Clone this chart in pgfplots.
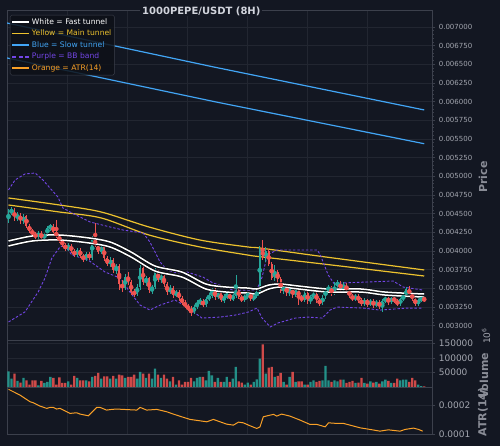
\documentclass[border=0pt]{standalone}
\usepackage{fontspec}
\setmainfont{DejaVu Sans}
\usepackage{pgfplots}
\usepackage{pgfplotstable}
\pgfplotsset{compat=1.18}
\definecolor{bg}{HTML}{131722}
\definecolor{gridc}{HTML}{222631}
\definecolor{spine}{HTML}{3C404C}
\definecolor{tickc}{HTML}{A3A6AF}
\definecolor{labc}{HTML}{8A8D97}
\definecolor{titc}{HTML}{D1D4DC}
\definecolor{upc}{HTML}{26A69A}
\definecolor{dnc}{HTML}{EF5350}
\definecolor{ylw}{HTML}{EDC22E}
\definecolor{blu}{HTML}{42A5F5}
\definecolor{prp}{HTML}{7346E6}
\definecolor{org}{HTML}{F9A027}
\definecolor{legbg}{HTML}{0E1118}
\definecolor{outl}{HTML}{0A0C10}

\pgfplotstableread{
i o h l c
0 0.004402 0.004562 0.004375 0.004509
1 0.004509 0.004589 0.004482 0.004549
3 0.004428 0.004522 0.004402 0.004495
5 0.004388 0.004495 0.004362 0.004469
10 0.004187 0.004268 0.004161 0.004241
12 0.004174 0.004241 0.004147 0.004228
13 0.004228 0.004335 0.004201 0.004308
14 0.004308 0.004362 0.004268 0.004335
20 0.004027 0.004107 0.004000 0.004067
23 0.003946 0.004040 0.003919 0.004013
26 0.003893 0.003986 0.003866 0.003960
28 0.003906 0.004201 0.003879 0.004161
31 0.003986 0.004094 0.003960 0.004053
34 0.003826 0.003919 0.003785 0.003879
36 0.003745 0.003826 0.003692 0.003799
39 0.003504 0.003692 0.003477 0.003651
43 0.003424 0.003558 0.003397 0.003517
44 0.003517 0.003812 0.003477 0.003772
46 0.003584 0.003665 0.003531 0.003638
48 0.003477 0.003544 0.003424 0.003517
49 0.003517 0.003812 0.003491 0.003718
51 0.003611 0.003718 0.003571 0.003665
54 0.003450 0.003544 0.003424 0.003504
56 0.003410 0.003477 0.003383 0.003450
62 0.003182 0.003276 0.003156 0.003249
63 0.003249 0.003343 0.003223 0.003303
64 0.003303 0.003370 0.003276 0.003330
66 0.003276 0.003383 0.003249 0.003357
67 0.003357 0.003437 0.003330 0.003397
68 0.003397 0.003504 0.003370 0.003477
70 0.003383 0.003464 0.003357 0.003437
72 0.003343 0.003424 0.003303 0.003383
73 0.003383 0.003450 0.003357 0.003424
75 0.003357 0.003437 0.003330 0.003397
76 0.003397 0.003678 0.003370 0.003477
79 0.003343 0.003424 0.003316 0.003397
80 0.003397 0.003450 0.003357 0.003424
82 0.003357 0.003424 0.003330 0.003397
83 0.003397 0.003477 0.003370 0.003450
84 0.003450 0.004067 0.003424 0.004027
86 0.003906 0.004053 0.003852 0.004000
89 0.003638 0.003812 0.003598 0.003718
92 0.003464 0.003558 0.003424 0.003517
94 0.003437 0.003517 0.003397 0.003491
96 0.003410 0.003504 0.003383 0.003477
99 0.003343 0.003464 0.003316 0.003437
101 0.003330 0.003410 0.003290 0.003383
102 0.003383 0.003450 0.003357 0.003424
105 0.003303 0.003410 0.003276 0.003383
106 0.003383 0.003504 0.003357 0.003477
107 0.003477 0.003544 0.003450 0.003504
109 0.003437 0.003584 0.003410 0.003544
110 0.003544 0.003611 0.003504 0.003571
112 0.003491 0.003584 0.003464 0.003558
116 0.003357 0.003424 0.003330 0.003397
119 0.003290 0.003370 0.003263 0.003343
121 0.003290 0.003357 0.003263 0.003330
123 0.003276 0.003343 0.003249 0.003316
125 0.003263 0.003357 0.003182 0.003330
126 0.003330 0.003397 0.003303 0.003370
128 0.003316 0.003397 0.003290 0.003370
131 0.003290 0.003383 0.003263 0.003357
132 0.003357 0.003424 0.003330 0.003397
133 0.003397 0.003517 0.003370 0.003491
137 0.003290 0.003370 0.003263 0.003343
138 0.003343 0.003397 0.003316 0.003370
}\candup

\pgfplotstableread{
i o h l c
2 0.004549 0.004576 0.004402 0.004428
4 0.004495 0.004509 0.004362 0.004388
6 0.004469 0.004482 0.004308 0.004335
7 0.004335 0.004362 0.004241 0.004268
8 0.004268 0.004295 0.004201 0.004228
9 0.004228 0.004254 0.004161 0.004187
11 0.004241 0.004268 0.004147 0.004174
15 0.004335 0.004362 0.004228 0.004254
16 0.004254 0.004415 0.004174 0.004201
17 0.004201 0.004228 0.004107 0.004134
18 0.004134 0.004161 0.004053 0.004080
19 0.004080 0.004107 0.004000 0.004027
21 0.004067 0.004094 0.003973 0.004000
22 0.004000 0.004027 0.003919 0.003946
24 0.004013 0.004040 0.003906 0.003933
25 0.003933 0.003960 0.003852 0.003893
27 0.003960 0.003986 0.003879 0.003906
29 0.004161 0.004375 0.004053 0.004080
30 0.004080 0.004107 0.003960 0.003986
32 0.004053 0.004080 0.003866 0.003906
33 0.003906 0.003933 0.003799 0.003826
35 0.003879 0.003906 0.003705 0.003745
37 0.003799 0.003826 0.003477 0.003558
38 0.003558 0.003611 0.003450 0.003504
40 0.003651 0.003718 0.003544 0.003584
41 0.003584 0.003611 0.003410 0.003450
42 0.003450 0.003491 0.003383 0.003424
45 0.003772 0.003799 0.003544 0.003584
47 0.003638 0.003651 0.003437 0.003477
50 0.003718 0.003745 0.003584 0.003611
52 0.003665 0.003678 0.003517 0.003558
53 0.003558 0.003584 0.003410 0.003450
55 0.003504 0.003531 0.003370 0.003410
57 0.003450 0.003477 0.003330 0.003370
58 0.003370 0.003397 0.003276 0.003303
59 0.003303 0.003343 0.003236 0.003263
60 0.003263 0.003290 0.003196 0.003223
61 0.003223 0.003263 0.003129 0.003182
65 0.003330 0.003357 0.003249 0.003276
69 0.003477 0.003504 0.003343 0.003383
71 0.003437 0.003464 0.003316 0.003343
74 0.003424 0.003450 0.003330 0.003357
77 0.003477 0.003504 0.003357 0.003383
78 0.003383 0.003410 0.003316 0.003343
81 0.003424 0.003450 0.003330 0.003357
85 0.004027 0.004147 0.003879 0.003906
87 0.004000 0.004027 0.003799 0.003826
88 0.003826 0.003852 0.003611 0.003638
90 0.003718 0.003745 0.003571 0.003625
91 0.003625 0.003651 0.003437 0.003464
93 0.003517 0.003544 0.003397 0.003437
95 0.003491 0.003517 0.003370 0.003410
97 0.003477 0.003504 0.003276 0.003383
98 0.003383 0.003410 0.003316 0.003343
100 0.003437 0.003464 0.003290 0.003330
103 0.003424 0.003450 0.003303 0.003343
104 0.003343 0.003370 0.003263 0.003303
108 0.003504 0.003531 0.003397 0.003437
111 0.003571 0.003598 0.003464 0.003491
113 0.003558 0.003571 0.003437 0.003464
114 0.003464 0.003491 0.003370 0.003397
115 0.003397 0.003424 0.003330 0.003357
117 0.003397 0.003424 0.003303 0.003343
118 0.003343 0.003370 0.003263 0.003290
120 0.003343 0.003357 0.003249 0.003290
122 0.003330 0.003357 0.003236 0.003276
124 0.003316 0.003343 0.003223 0.003263
127 0.003370 0.003397 0.003276 0.003316
129 0.003370 0.003397 0.003303 0.003330
130 0.003330 0.003357 0.003263 0.003290
134 0.003491 0.003531 0.003383 0.003424
135 0.003424 0.003450 0.003330 0.003357
136 0.003357 0.003383 0.003263 0.003290
139 0.003370 0.003383 0.003316 0.003343
}\canddn

\pgfplotstableread{
i v
0 54000
1 28700
3 20700
5 31000
10 5700
12 13800
13 17200
14 34500
20 19500
23 31000
26 23000
28 34500
31 28700
34 28700
36 28700
39 31000
43 28700
44 51700
46 31000
48 28700
49 63200
51 31000
54 19500
56 8000
62 19500
63 31000
64 34500
66 23000
67 55200
68 40200
70 31000
72 17200
73 34500
75 28700
76 68900
79 8000
80 14900
82 17200
83 26400
84 97700
86 46000
89 34500
92 17200
94 34500
96 17200
99 8000
101 17200
102 23000
105 23000
106 72400
107 23000
109 23000
110 19500
112 25300
116 13800
119 13800
121 19500
123 17200
125 19500
126 25300
128 13800
131 23000
132 25300
133 25300
137 8000
138 3400
}\volup

\pgfplotstableread{
i v
2 46000
4 14900
6 23000
7 8000
8 23000
9 23000
11 20700
15 31000
16 8000
17 33300
18 13800
19 13800
21 8000
22 37900
24 23000
25 23000
27 19500
29 37900
30 48300
32 36800
33 36800
35 37900
37 42500
38 40200
40 34500
41 34500
42 42500
45 46000
47 46000
50 42500
52 42500
53 28700
55 34500
57 23000
58 8000
59 17200
60 17200
61 31000
65 34500
69 17200
71 17200
74 17200
77 19500
78 14900
81 8000
85 145900
87 66600
88 68900
90 37900
91 48300
93 8000
95 51700
97 19500
98 19500
100 8000
103 17200
104 20700
108 17200
111 25300
113 13800
114 17200
115 20700
117 14900
118 31000
120 11500
122 14900
124 11500
127 20700
129 13800
130 28700
134 17200
135 31000
136 23000
139 2000
}\voldn

\pgfplotstableread{
i a
0 0.0002563
1.6 0.0002479
3.8 0.0002363
7.2 0.0002127
8.3 0.0002092
10.5 0.0001975
12.8 0.0001894
13.9 0.0001929
15 0.0001929
16.1 0.0001870
17.2 0.0001894
19.5 0.0001775
20.6 0.0001718
22.8 0.0001740
23.9 0.0001694
26.7 0.0001634
29.5 0.0001929
30.6 0.0001929
32.8 0.0001834
34.5 0.0001858
36.2 0.0001870
38.4 0.0001858
42.9 0.0001834
44 0.0001929
46.2 0.0001834
49.6 0.0001858
52.9 0.0001775
55.1 0.0001694
57.9 0.0001599
60.7 0.0001507
64 0.0001458
66.3 0.0001423
68.5 0.0001507
72.9 0.0001342
75.2 0.0001306
76.9 0.0001412
78.5 0.0001387
80.8 0.0001282
83 0.0001190
84.1 0.0001246
85.2 0.0001599
87.5 0.0001658
88.6 0.0001683
89.7 0.0001623
91.3 0.0001694
94.1 0.0001623
97.5 0.0001482
100.8 0.0001331
103.1 0.0001331
105.9 0.0001246
107 0.0001387
109.8 0.0001366
112 0.0001366
114.2 0.0001306
117.6 0.0001211
120.9 0.0001155
124.2 0.0001095
127 0.0001141
130.9 0.0001095
132.6 0.0001155
135.4 0.0001201
137.1 0.0001155
138.5 0.0001095
}\atrt

\pgfplotstableread{
i p
0 0.004134
8 0.004201
17 0.004214
27 0.004174
34 0.004120
41 0.003986
49 0.003799
58 0.003718
66 0.003558
73 0.003517
80 0.003504
83 0.003491
87 0.003544
91 0.003558
97 0.003531
107 0.003491
118 0.003491
126 0.003450
139 0.003424
}\wu

\pgfplotstableread{
i p
0 0.004067
8 0.004134
17 0.004147
27 0.004107
34 0.004053
41 0.003919
49 0.003732
58 0.003651
66 0.003491
73 0.003450
80 0.003437
83 0.003424
87 0.003491
91 0.003517
97 0.003491
107 0.003450
118 0.003450
126 0.003410
139 0.003383
}\wl

\pgfplotstableread{
i p
0 0.004710
17 0.004616
31 0.004522
47 0.004321
64 0.004147
80 0.004054
84 0.004040
106 0.003920
139 0.003746
}\yu

\pgfplotstableread{
i p
0 0.004616
17 0.004522
31 0.004442
47 0.004214
64 0.004054
80 0.003946
84 0.003924
106 0.003822
139 0.003665
}\yl

\pgfplotstableread{
i p
-0.5 0.007052
69 0.006460
139 0.005888
}\bu

\pgfplotstableread{
i p
-0.5 0.006584
69 0.005998
139 0.005436
}\bl

\pgfplotstableread{
i p
0 0.004817
2.2 0.004951
5.5 0.005031
8.9 0.005044
11.5 0.004951
16.5 0.004723
18.2 0.004576
21.2 0.004509
27.3 0.004388
34 0.004321
38.3 0.004281
45 0.004241
47.3 0.004120
50.7 0.003852
53 0.003745
56.4 0.003705
59.7 0.003718
65 0.003651
68.4 0.003571
70.7 0.003544
75 0.003477
80.8 0.003477
83 0.003477
84.8 0.003651
86.5 0.003946
89.8 0.004013
103.2 0.004013
104.2 0.003954
106.9 0.003678
109.2 0.003544
110.9 0.003571
128.6 0.003598
132 0.003517
138.6 0.003477
}\bbu

\pgfplotstableread{
i p
0 0.003050
5.5 0.003184
9.9 0.003450
12.2 0.003638
14.5 0.003906
17.2 0.004053
18.6 0.004080
21.2 0.003946
26.6 0.003879
32.3 0.003718
37.3 0.003638
40.6 0.003450
44 0.003276
47.3 0.003209
50.7 0.003276
55.7 0.003343
59.7 0.003249
64.7 0.003102
70.7 0.003115
75.8 0.003142
80.1 0.003182
83.1 0.003236
84.8 0.003102
87.5 0.002983
90.1 0.003036
95.8 0.003102
100.2 0.003115
104.9 0.003102
107.5 0.003209
109.9 0.003249
118.6 0.003236
124.2 0.003209
133.3 0.003236
138.6 0.003236
}\bbl

\pgfplotsset{
  panel/.style={
    scale only axis, width=425pt, xmin=-0.5, xmax=141.6,
    axis background/.style={fill=bg},
    axis line style={draw=spine, line width=0.8pt},
    xtick={19.6,39.6,59.7,79.8,99.8,119.9}, xticklabels={},
    major x tick style={draw=none},
    grid=major, major grid style={draw=gridc, line width=0.6pt},
    ytick pos=right, yticklabel pos=right, tick align=outside,
    major tick length=3.3pt, minor tick length=2pt,
    every tick/.style={draw=spine, line width=0.6pt},
    yticklabel style={text=tickc, anchor=west},
    scaled y ticks=false,
  },
  candle/.style={only marks, mark=none, forget plot,
    error bars/.cd, y dir=both, y explicit, error mark=none,
    error bar style={line width=#1}},
}

\begin{document}
\begin{tikzpicture}[x=1pt,y=1pt]
\fill[bg] (0,0) rectangle (500,446);
\path[use as bounding box] (0,0) rectangle (500,446);

% ---------------- Price panel ----------------
\begin{axis}[panel, at={(7pt,106pt)}, anchor=south west, height=330pt,
  ymin=0.0028085, ymax=0.0072262,
  ytick={0.003,0.00325,0.0035,0.00375,0.004,0.00425,0.0045,0.00475,0.005,0.00525,0.0055,0.00575,0.006,0.00625,0.0065,0.00675,0.007},
  minor y tick num=4,
  yticklabel style={font=\fontsize{7}{8}\selectfont, /pgf/number format/.cd, fixed, fixed zerofill, precision=6, assume math mode=true},
  legend image code/.code={\draw[line width=1.8pt, #1] (0pt,0pt) -- (17pt,0pt);},
  legend cell align=left,
  legend style={at={(0.007,0.985)}, anchor=north west, fill=legbg, fill opacity=0.85, text opacity=1, draw=spine, rounded corners=1.5pt,
    font=\fontsize{7.6}{9}\selectfont, inner xsep=1pt, inner ysep=1pt,
    nodes={inner ysep=2.3pt, inner xsep=2pt, text height=5.6pt, text depth=1.4pt}},
]
\addlegendimage{draw=white, line width=1.8pt}
\addlegendentry{\textcolor{white}{White = Fast tunnel}}
\addlegendimage{draw=ylw, line width=1.8pt}
\addlegendentry{\textcolor{ylw}{Yellow = Main tunnel}}
\addlegendimage{draw=blu, line width=1.8pt}
\addlegendentry{\textcolor{blu}{Blue = Slow tunnel}}
\addlegendimage{draw=prp, line width=1.8pt, dash pattern=on 4pt off 2.5pt}
\addlegendentry{\textcolor{prp}{Purple = BB band}}
\addlegendimage{draw=org, line width=1.8pt}
\addlegendentry{\textcolor{org}{Orange = ATR(14)}}

\addplot[blu, line width=1.2pt, forget plot] table[x=i,y=p] {\bu};
\addplot[blu, line width=1.2pt, forget plot] table[x=i,y=p] {\bl};
\addplot[ylw, line width=1.2pt, smooth, tension=0.5, forget plot] table[x=i,y=p] {\yu};
\addplot[ylw, line width=1.2pt, smooth, tension=0.5, forget plot] table[x=i,y=p] {\yl};
\addplot[prp, line width=0.9pt, dash pattern=on 2.5pt off 1.8pt, forget plot] table[x=i,y=p] {\bbu};
\addplot[prp, line width=0.9pt, dash pattern=on 2.5pt off 1.8pt, forget plot] table[x=i,y=p] {\bbl};

% candles
\addplot[color=upc, candle=0.6pt] table[x=i, y expr=(\thisrow{h}+\thisrow{l})/2, y error expr=(\thisrow{h}-\thisrow{l})/2] {\candup};
\addplot[color=upc, candle=1.9pt] table[x=i, y expr=(\thisrow{o}+\thisrow{c})/2, y error expr=abs(\thisrow{c}-\thisrow{o})/2] {\candup};
\addplot[color=dnc, candle=0.6pt] table[x=i, y expr=(\thisrow{h}+\thisrow{l})/2, y error expr=(\thisrow{h}-\thisrow{l})/2] {\canddn};
\addplot[color=dnc, candle=1.9pt] table[x=i, y expr=(\thisrow{o}+\thisrow{c})/2, y error expr=abs(\thisrow{o}-\thisrow{c})/2] {\canddn};

% fast tunnel
\addplot[outl, line width=3.2pt, smooth, tension=0.5, forget plot] table[x=i,y=p] {\wu};
\addplot[white, line width=1.5pt, smooth, tension=0.5, forget plot] table[x=i,y=p] {\wu};
\addplot[outl, line width=3.2pt, smooth, tension=0.5, forget plot] table[x=i,y=p] {\wl};
\addplot[white, line width=1.5pt, smooth, tension=0.5, forget plot] table[x=i,y=p] {\wl};
\end{axis}

% ---------------- Volume panel ----------------
\begin{axis}[panel, at={(7pt,59pt)}, anchor=south west, height=47pt,
  ymin=0, ymax=161300, ytick={50000,100000,150000},
  yticklabel style={font=\fontsize{9}{10}\selectfont, /pgf/number format/.cd, fixed, precision=0, 1000 sep={}, assume math mode=true},
]
\addplot[ybar, bar width=0.78, bar shift=0pt, fill=upc, fill opacity=0.85, draw=none, forget plot] table[x=i,y=v] {\volup};
\addplot[ybar, bar width=0.78, bar shift=0pt, fill=dnc, fill opacity=0.85, draw=none, forget plot] table[x=i,y=v] {\voldn};
\end{axis}

% ---------------- ATR panel ----------------
\begin{axis}[panel, at={(7pt,12pt)}, anchor=south west, height=47pt,
  ymin=0.0000995, ymax=0.0002644, ytick={0.0001,0.0002},
  yticklabel style={font=\fontsize{9}{10}\selectfont, /pgf/number format/.cd, fixed, fixed zerofill, precision=4, assume math mode=true},
]
\addplot[org, line width=1pt, forget plot] table[x=i,y=a] {\atrt};
\end{axis}

% titles and labels
\node[anchor=west, fill=bg, inner xsep=2pt, inner ysep=1pt, text=titc, font=\bfseries\fontsize{10}{12}\selectfont] at (140,435) {1000PEPE/USDT (8H)};
\node[rotate=90, text=labc, font=\bfseries\fontsize{11}{13}\selectfont] at (483,269) {Price};
\node[rotate=90, text=labc, font=\bfseries\fontsize{11}{13}\selectfont] at (484,70) {Volume};
\node[rotate=90, text=labc, font=\bfseries\fontsize{11}{13}\selectfont] at (483,34) {ATR(14)};
\node[rotate=90, text=tickc, font=\fontsize{9}{10}\selectfont] at (486,110) {10\textsuperscript{6}};
\end{tikzpicture}
\end{document}
